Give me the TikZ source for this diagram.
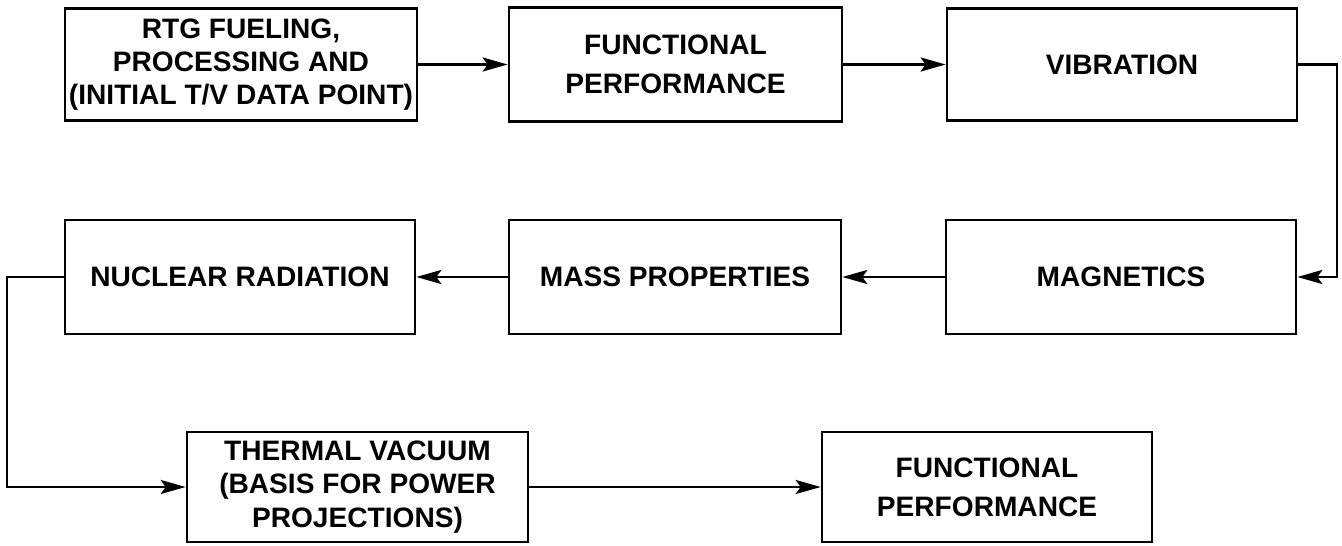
\documentclass[tikz,border=0pt]{standalone}
\usepackage{fontspec}
\setmainfont{Liberation Sans}
\usepackage{tikz}
\usetikzlibrary{arrows.meta, positioning}
\tikzstyle{block} = [rectangle, draw=black, line width=1.5pt, align=center, inner sep=1pt, font=\fontsize{16}{19}\selectfont\bfseries]
\tikzstyle{arrow} = [line width=1.6pt, -{Stealth[length=5mm, width=2.8mm, inset=1mm]}]

\begin{document}
\begin{tikzpicture}[x=0.02cm, y=-0.02cm]
    \useasboundingbox (0,0) rectangle (1342,545);
    % top row
    \node [block, minimum width=352*0.02cm, minimum height=112*0.02cm] (fuel) at (241, 64.5) {RTG FUELING,\\PROCESSING AND\\(INITIAL T/V DATA POINT)};
    \node [block, minimum width=333*0.02cm, minimum height=114*0.02cm] (perfA) at (675.5, 64.5) {FUNCTIONAL\\[3pt]PERFORMANCE};
    \node [block, minimum width=350*0.02cm, minimum height=112*0.02cm] (vib) at (1122, 64.5) {VIBRATION};
    % middle row
    \node [block, minimum width=350*0.02cm, minimum height=114*0.02cm] (magn) at (1121, 277) {MAGNETICS};
    \node [block, minimum width=332*0.02cm, minimum height=114*0.02cm] (mass) at (675, 277) {MASS PROPERTIES};
    \node [block, minimum width=350*0.02cm, minimum height=114*0.02cm] (nucl) at (240, 277) {NUCLEAR RADIATION};
    % bottom row
    \node [block, minimum width=341*0.02cm, minimum height=110*0.02cm] (tvac) at (357.5, 487) {THERMAL VACUUM\\(BASIS FOR POWER\\PROJECTIONS)};
    \node [block, minimum width=330*0.02cm, minimum height=110*0.02cm] (perfB) at (987, 487) {FUNCTIONAL\\[3pt]PERFORMANCE};

    \coordinate (r1) at (1337, 64.5);
    \coordinate (r2) at (1337, 277);
    \coordinate (l1) at (7, 277);
    \coordinate (l2) at (7, 487);

    \draw [arrow] (fuel) -- (perfA);
    \draw [arrow] (perfA) -- (vib);
    \draw [arrow] (vib.east) -- (r1) -- (r2) -- (magn.east);
    \draw [arrow] (magn) -- (mass);
    \draw [arrow] (mass) -- (nucl);
    \draw [arrow] (nucl.west) -- (l1) -- (l2) -- (tvac.west);
    \draw [arrow] (tvac) -- (perfB);
\end{tikzpicture}
\end{document}
